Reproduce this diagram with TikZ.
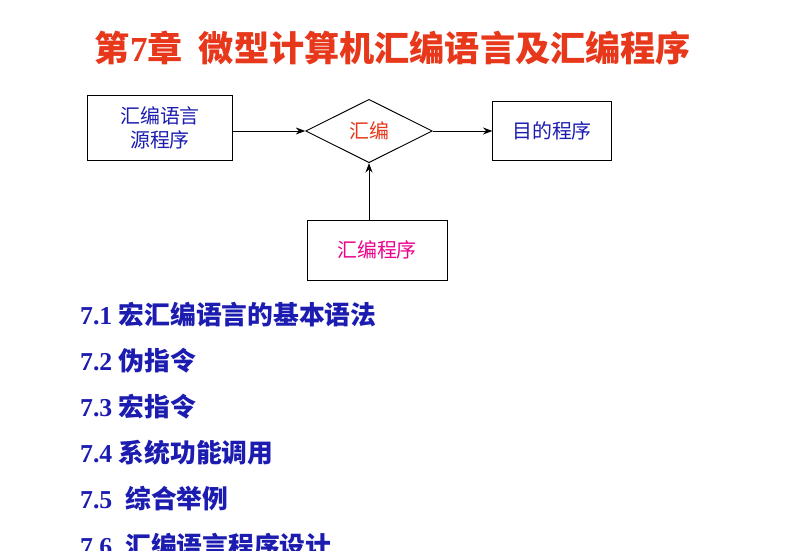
\documentclass[tikz,border=0pt]{standalone}
\usepackage{fontspec}
\setmainfont{Liberation Serif}
\newfontfamily\cjk{Noto Sans CJK SC}
\usetikzlibrary{shapes.geometric,arrows.meta}
\definecolor{tred}{HTML}{E8381C}
\definecolor{lblue}{HTML}{1C1CB0}
\tikzset{box/.style={draw,thick,minimum width=4.35cm,minimum height=1.95cm,align=center,font=\cjk\fontsize{17}{21}\selectfont},
arr/.style={-{Stealth[length=8pt,width=6pt]},thick},
item/.style={anchor=west,text=lblue,font=\bfseries\fontsize{22}{26}\selectfont}}
\begin{document}
\begin{tikzpicture}[x=0.03cm,y=-0.03cm]
\fill[white] (0,0) rectangle (800,550);
\clip (0,0) rectangle (800,550);
\node[text=tred,font=\bfseries\fontsize{30}{34}\selectfont] (t) at (393,48) {{\cjk 第}7{\cjk 章\ \ 微型计算机汇编语言及汇编程序}};
\node[box,text=lblue] (a) at (160,128) {汇编语言\\源程序};
\node[draw,thick,diamond,aspect=2,minimum width=3.8cm,minimum height=1.9cm,text=tred,font=\cjk\fontsize{17}{21}\selectfont] (d) at (369,131) {汇编};
\node[box,minimum width=3.55cm,minimum height=1.77cm,text=lblue] (c) at (552,131) {目的程序};
\node[box,minimum width=4.2cm,minimum height=1.8cm,text=magenta] (e) at (377,250) {汇编程序};
\draw[arr] (a.east|-d.west) -- (d.west);
\draw[arr] (d.east) -- (c.west);
\draw[arr] (d.south|-e.north) -- (d.south);
\node[item] (l1) at (76,315) {7.1 {\cjk 宏汇编语言的基本语法}};
\node[item] (l2) at (76,361) {7.2 {\cjk 伪指令}};
\node[item] (l3) at (76,407) {7.3 {\cjk 宏指令}};
\node[item] (l4) at (76,453) {7.4 {\cjk 系统功能调用}};
\node[item] (l5) at (76,499) {7.5 \ {\cjk 综合举例}};
\node[item] (l6) at (76,546) {7.6 \ {\cjk 汇编语言程序设计}};
\end{tikzpicture}
\end{document}
